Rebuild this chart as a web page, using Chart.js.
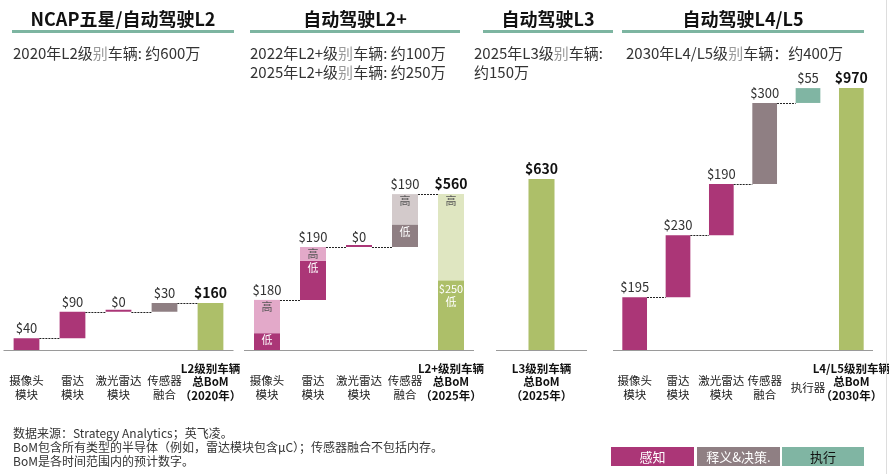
<!DOCTYPE html>
<html lang="zh-CN">
<head>
<meta charset="utf-8">
<title>自动驾驶半导体BoM</title>
<script src="https://cdn.jsdelivr.net/npm/chart.js@4.4.1/dist/chart.umd.min.js"></script>
<style>
  html, body { margin: 0; padding: 0; background: #fff; }
  #page { position: relative; width: 889px; height: 474px; overflow: hidden; font-family: 'Noto Sans CJK SC', sans-serif; color: #333; }
  #page canvas { position: absolute; left: 0; top: 0; }
  .head { position: absolute; top: 7px; height: 23px; line-height: 23px; text-align: center; font-size: 18px; font-weight: bold; color: #111; border-bottom: 3px solid #7DB5A1; white-space: nowrap; }
  .sub { position: absolute; top: 43px; font-size: 15px; line-height: 19px; color: #333; white-space: nowrap; }
  .sub span { color: #999; }
  .notes { position: absolute; left: 13px; top: 426px; font-size: 12px; line-height: 14px; color: #333; white-space: nowrap; }
  .legend { position: absolute; top: 447px; height: 19px; line-height: 19px; text-align: center; font-size: 13px; color: #fff; }
  .edge { position: absolute; left: 886px; top: 0; width: 1px; height: 474px; background: #ddd; }
</style>
</head>
<body>
<div id="page">
  <canvas id="c1" width="889" height="474"></canvas>
  <canvas id="c2" width="889" height="474"></canvas>
  <canvas id="c3" width="889" height="474"></canvas>
  <canvas id="c4" width="889" height="474"></canvas>

  <div class="head" style="left:12px;width:222px">NCAP五星/自动驾驶L2</div>
  <div class="head" style="left:250px;width:210px">自动驾驶L2+</div>
  <div class="head" style="left:483px;width:130px">自动驾驶L3</div>
  <div class="head" style="left:622px;width:242px">自动驾驶L4/L5</div>

  <div class="sub" style="left:13px">2020年L2级<span>别</span>车辆: 约600万</div>
  <div class="sub" style="left:250px">2022年L2+级<span>别</span>车辆: 约100万<br>2025年L2+级<span>别</span>车辆: 约250万</div>
  <div class="sub" style="left:474px">2025年L3级<span>别</span>车辆:<br>约150万</div>
  <div class="sub" style="left:626px">2030年L4/L5级<span>别</span>车辆：约400万</div>

  <div class="notes">数据来源：Strategy Analytics；英飞凌。<br>BoM包含所有类型的半导体（例如，雷达模块包含µC）；传感器融合不包括内存。<br>BoM是各时间范围内的预计数字。</div>

  <div class="legend" style="left:611px;width:83px;background:#AB3677">感知</div>
  <div class="legend" style="left:697px;width:83px;background:#8F7F83">释义&amp;决策.</div>
  <div class="legend" style="left:782px;width:82px;background:#80B5A3;color:#111">执行</div>
  <div class="edge"></div>
</div>

<script>
// --- Data ---
const l2Labels = [['摄像头', '模块'], ['雷达', '模块'], ['激光雷达', '模块'], ['传感器', '融合'], ['L2级别车辆', '总BoM', '（2020年）']];
const l2Values = [40, 90, 0, 30, 160];
const l2Kinds = ['sense', 'sense', 'sense', 'decide', 'total'];

const l2pLabels = [['摄像头', '模块'], ['雷达', '模块'], ['激光雷达', '模块'], ['传感器', '融合'], ['L2+级别车辆', '总BoM', '（2025年）']];
const l2pLow = [60, 140, 0, 80, 250];
const l2pHigh = [120, 50, 0, 110, 310];
const l2pKinds = ['sense', 'sense', 'sense', 'decide', 'total'];

const l3Labels = [['L3级别车辆', '总BoM', '（2025年）']];
const l3Values = [630];
const l3Kinds = ['total'];

const l45Labels = [['摄像头', '模块'], ['雷达', '模块'], ['激光雷达', '模块'], ['传感器', '融合'], ['执行器'], ['L4/L5级别车辆', '总BoM', '（2030年）']];
const l45Values = [195, 230, 190, 300, 55, 970];
const l45Kinds = ['sense', 'sense', 'sense', 'decide', 'act', 'total'];

// --- Styles ---
const palette = {
    sense: ['#AB3677', '#E3A9C9'],
    decide: ['#8F7F83', '#D3CACB'],
    act: ['#80B5A3', '#80B5A3'],
    total: ['#ADBF69', '#DFE6C1']
};
const FONT = "'Noto Sans CJK SC', sans-serif";
Chart.defaults.font.family = FONT;

// draws axis line, dashed connectors, value labels, 高/低 tags and category labels
const waterfallPlugin = (p, starts, sums) => ({
    id: 'waterfall',
    beforeDatasetsDraw(chart) {
        const { ctx, chartArea: a } = chart;
        ctx.save();
        ctx.strokeStyle = '#9a9a9a';
        ctx.lineWidth = 1;
        ctx.beginPath();
        ctx.moveTo(a.left, Math.round(a.bottom) + 0.5);
        ctx.lineTo(a.right, Math.round(a.bottom) + 0.5);
        ctx.stroke();
        ctx.restore();
    },
    afterDatasetsDraw(chart) {
        const { ctx, chartArea: a, scales: { y } } = chart;
        const bars = chart.getDatasetMeta(0).data;
        ctx.save();

        // connectors
        ctx.strokeStyle = '#222';
        ctx.lineWidth = 1;
        ctx.setLineDash([2, 1]);
        for (let i = 0; i < bars.length - 1; i++) {
            if (p.kinds[i] === 'total') continue;
            if (p.kinds[i + 1] === 'total' && p.noTotalLink) continue;
            const py = Math.round(y.getPixelForValue(starts[i] + sums[i])) + 0.5;
            ctx.beginPath();
            ctx.moveTo(bars[i].x + bars[i].width / 2, py);
            ctx.lineTo(bars[i + 1].x - bars[i + 1].width / 2, py);
            ctx.stroke();
        }
        ctx.setLineDash([]);

        // value labels
        ctx.textAlign = 'center';
        bars.forEach((bar, i) => {
            const total = p.kinds[i] === 'total';
            ctx.font = (total ? 'bold 14px ' : '13px ') + FONT;
            ctx.fillStyle = total ? '#111' : '#333';
            ctx.textBaseline = 'alphabetic';
            ctx.fillText('$' + sums[i], bar.x, y.getPixelForValue(starts[i] + sums[i]) - 5);
        });

        // 高 / 低 tags on split bars
        if (p.high) {
            ctx.font = '11px ' + FONT;
            ctx.textBaseline = 'middle';
            bars.forEach((bar, i) => {
                const lo = p.low[i], hi = p.high[i];
                if (!lo || !hi) return;
                const hiTop = y.getPixelForValue(starts[i] + lo + hi);
                const loTop = y.getPixelForValue(starts[i] + lo);
                const loBot = y.getPixelForValue(starts[i]);
                ctx.fillStyle = '#555';
                ctx.fillText('高', bar.x, hiTop + Math.min(7, (loTop - hiTop) / 2));
                ctx.fillStyle = '#fff';
                if (p.kinds[i] === 'total') {
                    ctx.fillText('$' + lo, bar.x, loTop + 8);
                    ctx.fillText('低', bar.x, loTop + 21);
                } else {
                    ctx.fillText('低', bar.x, loTop + Math.min(7, (loBot - loTop) / 2));
                }
            });
        }

        // category labels
        ctx.textBaseline = 'middle';
        bars.forEach((bar, i) => {
            const total = p.kinds[i] === 'total';
            const lines = p.labels[i];
            const lh = total ? 13.5 : 14;
            const mid = a.bottom + (total ? 32 : 38);
            ctx.font = (total ? 'bold 11.5px ' : '11.5px ') + FONT;
            ctx.fillStyle = total ? '#111' : '#222';
            lines.forEach((t, k) => {
                ctx.fillText(t, bar.x, mid + (k - (lines.length - 1) / 2) * lh);
            });
        });
        ctx.restore();
    }
});

function buildPanel(canvasId, p) {
    const lowData = [], highData = [], starts = [], sums = [];
    let cum = 0;
    p.kinds.forEach((k, i) => {
        const lo = p.low[i];
        const hi = p.high ? p.high[i] : 0;
        const start = k === 'total' ? 0 : cum;
        lowData.push([start, start + lo]);
        highData.push([start + lo, start + lo + hi]);
        starts.push(start);
        sums.push(lo + hi);
        if (k !== 'total') cum += lo + hi;
    });

    const datasets = [{
        data: lowData,
        backgroundColor: p.kinds.map(k => palette[k][0]),
        minBarLength: 2
    }];
    if (p.high) {
        datasets.push({ data: highData, backgroundColor: p.kinds.map(k => palette[k][1]) });
    }

    return new Chart(document.getElementById(canvasId), {
        type: 'bar',
        data: { labels: p.labels, datasets },
        options: {
            responsive: false,
            animation: false,
            devicePixelRatio: 1,
            events: [],
            layout: { padding: { left: p.left, right: 889 - p.right, top: 80, bottom: 124 } },
            datasets: { bar: { categoryPercentage: 1, barPercentage: p.barPct, borderWidth: 0 } },
            scales: {
                x: { display: false, stacked: true },
                y: { display: false, min: 0, max: p.yMax }
            },
            plugins: { legend: { display: false }, tooltip: { enabled: false } }
        },
        plugins: [waterfallPlugin(p, starts, sums)]
    });
}

buildPanel('c1', { labels: l2Labels, low: l2Values, kinds: l2Kinds, left: 3.5, right: 233.5, yMax: 920, barPct: 0.56 });
buildPanel('c2', { labels: l2pLabels, low: l2pLow, high: l2pHigh, kinds: l2pKinds, left: 244, right: 474, yMax: 970, barPct: 0.565 });
buildPanel('c3', { labels: l3Labels, low: l3Values, kinds: l3Kinds, left: 496, right: 587, yMax: 995, barPct: 0.286 });
buildPanel('c4', { labels: l45Labels, low: l45Values, kinds: l45Kinds, left: 613, right: 873, yMax: 1000, barPct: 0.57, noTotalLink: true });
</script>
</body>
</html>
